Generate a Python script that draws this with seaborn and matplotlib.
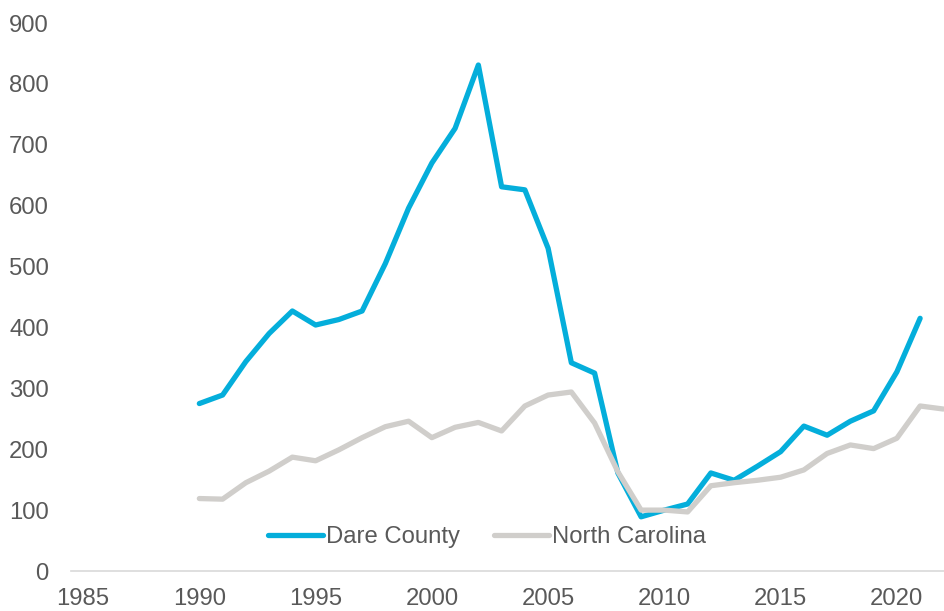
import numpy as np
import pandas as pd
import seaborn as sns
import matplotlib.pyplot as plt

years_dare = list(range(1990, 2022))
dare = [275, 289, 344, 390, 427, 404, 413, 427, 505, 596, 670, 727, 831, 631, 626, 530,
        342, 325, 161, 89, 100, 110, 161, 149, 172, 196, 238, 223, 246, 263, 327, 415]

years_nc = list(range(1990, 2023))
nc = [119, 118, 145, 164, 187, 181, 199, 219, 237, 246, 219, 236, 244, 230, 271, 289,
      294, 243, 163, 100, 100, 97, 140, 145, 149, 154, 166, 193, 207, 201, 218, 271, 266]

series_names = ["Dare County", "North Carolina"]
colors = ["#04AEDB", "#D0CECB"]

df = pd.concat([
    pd.DataFrame({"year": years_dare, "value": dare, "area": series_names[0]}),
    pd.DataFrame({"year": years_nc, "value": nc, "area": series_names[1]}),
])

sns.set_style("white")
plt.rcParams["font.family"] = ["Liberation Sans", "DejaVu Sans"]

fig = plt.figure(figsize=(9.45, 6.11), dpi=100)
ax = fig.add_axes([71 / 945, 40 / 611, 874 / 945, 548 / 611])

sns.lineplot(data=df, x="year", y="value", hue="area", palette=colors,
             linewidth=3.8, ax=ax, legend=True)
for ln in ax.get_lines():
    ln.set_solid_capstyle("round")
    ln.set_solid_joinstyle("round")

ax.set_xlim(1984.48, 2022.07)
ax.set_ylim(0, 900)
ax.set_xticks(range(1985, 2021, 5))
ax.set_yticks(range(0, 901, 100))
ax.set_xlabel("")
ax.set_ylabel("")

for s in ["top", "right", "left"]:
    ax.spines[s].set_visible(False)
ax.spines["bottom"].set_color("#D9D9D9")
ax.spines["bottom"].set_linewidth(1.2)

ax.tick_params(axis="both", length=0, labelsize=17.2, labelcolor="#595959")
ax.tick_params(axis="y", pad=16)
ax.tick_params(axis="x", pad=12)

leg = ax.legend(loc="center", bbox_to_anchor=(487 / 945, 1 - 537 / 611),
                bbox_transform=fig.transFigure, ncol=2, frameon=False,
                fontsize=17.2, handlelength=2.3, handletextpad=0.15,
                columnspacing=1.4)
for t in leg.get_texts():
    t.set_color("#595959")
for h in leg.get_lines():
    h.set_linewidth(3.8)
    h.set_solid_capstyle("round")

fig.savefig("out.png", dpi=100)
